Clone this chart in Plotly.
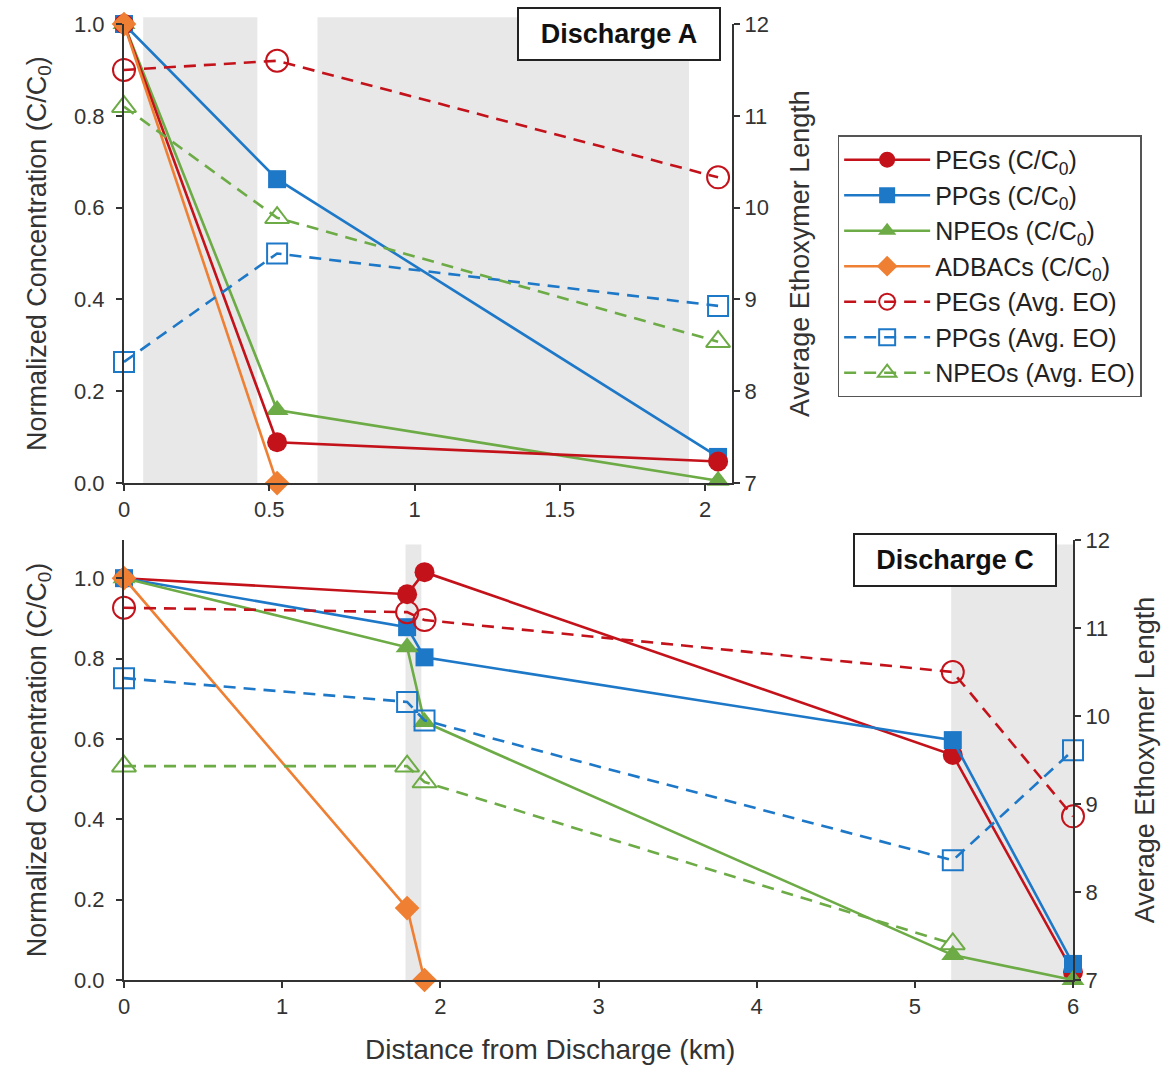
import plotly.graph_objects as go

# ---------------- data ----------------
# Discharge A
xa = [0, 0.527, 2.045]
a_peg_c = [1.0, 0.089, 0.047]
a_ppg_c = [1.0, 0.662, 0.057]
a_npeo_c = [1.0, 0.159, 0.005]
xa_adbac = [0, 0.527]
a_adbac_c = [1.0, 0.0]
a_peg_eo = [11.50, 11.60, 10.33]
a_ppg_eo = [8.32, 9.50, 8.93]
a_npeo_eo = [11.10, 9.89, 8.54]
a_shade = [(0.066, 0.459), (0.666, 1.945)]

# Discharge C
xc = [0, 1.79, 1.90, 5.24, 6.0]
c_peg_c = [1.0, 0.960, 1.015, 0.560, 0.020]
c_ppg_c = [1.0, 0.878, 0.803, 0.597, 0.040]
c_npeo_c = [1.0, 0.828, 0.642, 0.062, 0.0]
xc_adbac = [0, 1.79, 1.90]
c_adbac_c = [1.0, 0.179, 0.0]
c_peg_eo = [11.23, 11.18, 11.09, 10.50, 8.86]
c_ppg_eo = [10.43, 10.16, 9.95, 8.36, 9.61]
xc_npeo_eo = [0, 1.79, 1.90, 5.24]
c_npeo_eo = [9.43, 9.43, 9.25, 7.41]
c_shade = [(1.78, 1.88), (5.23, 6.0)]

names_c = ["PEGs (C/C<sub>0</sub>)", "PPGs (C/C<sub>0</sub>)", "NPEOs (C/C<sub>0</sub>)", "ADBACs (C/C<sub>0</sub>)"]
names_eo = ["PEGs (Avg. EO)", "PPGs (Avg. EO)", "NPEOs (Avg. EO)"]

RED = "#c4121b"
BLUE = "#1e78c8"
GREEN = "#6cab45"
ORANGE = "#ee7f33"
FONT = "Liberation Sans, Arial, sans-serif"
TXT = "#333333"

fig = go.Figure()

def solid(x, y, name, color, symbol, size, xaxis, yaxis, show, rank):
    fig.add_trace(go.Scatter(
        x=x, y=y, name=name, mode="lines+markers", xaxis=xaxis, yaxis=yaxis,
        line=dict(color=color, width=2.6),
        marker=dict(color=color, symbol=symbol, size=size),
        legendgroup=name, showlegend=show, legendrank=rank, cliponaxis=False))

def dashed(x, y, name, color, symbol, size, xaxis, yaxis, show, rank):
    fig.add_trace(go.Scatter(
        x=x, y=y, name=name, mode="lines+markers", xaxis=xaxis, yaxis=yaxis,
        line=dict(color=color, width=2.6, dash="12px,8px"),
        marker=dict(color=color, symbol=symbol, size=size, line=dict(width=2, color=color)),
        legendgroup=name, showlegend=show, legendrank=rank, cliponaxis=False))

# top panel (Discharge A)
dashed(xa, a_peg_eo, names_eo[0], RED, "circle-open", 22, "x", "y2", True, 5)
dashed(xa, a_ppg_eo, names_eo[1], BLUE, "square-open", 20, "x", "y2", True, 6)
dashed(xa, a_npeo_eo, names_eo[2], GREEN, "triangle-up-open", 21, "x", "y2", True, 7)
solid(xa, a_ppg_c, names_c[1], BLUE, "square", 18, "x", "y", True, 2)
solid(xa, a_npeo_c, names_c[2], GREEN, "triangle-up", 20, "x", "y", True, 3)
solid(xa, a_peg_c, names_c[0], RED, "circle", 20, "x", "y", True, 1)
solid(xa_adbac, a_adbac_c, names_c[3], ORANGE, "diamond", 19, "x", "y", True, 4)

# bottom panel (Discharge C)
dashed(xc, c_peg_eo, names_eo[0], RED, "circle-open", 22, "x2", "y4", False, 5)
dashed(xc, c_ppg_eo, names_eo[1], BLUE, "square-open", 20, "x2", "y4", False, 6)
dashed(xc_npeo_eo, c_npeo_eo, names_eo[2], GREEN, "triangle-up-open", 21, "x2", "y4", False, 7)
solid(xc, c_peg_c, names_c[0], RED, "circle", 20, "x2", "y3", False, 1)
solid(xc, c_ppg_c, names_c[1], BLUE, "square", 18, "x2", "y3", False, 2)
solid(xc, c_npeo_c, names_c[2], GREEN, "triangle-up", 20, "x2", "y3", False, 3)
solid(xc_adbac, c_adbac_c, names_c[3], ORANGE, "diamond", 19, "x2", "y3", False, 4)

shapes = []
for x0, x1 in a_shade:
    shapes.append(dict(type="rect", xref="x", yref="y domain", x0=x0, x1=x1, y0=0, y1=1.015,
                       fillcolor="#e8e8e8", line=dict(width=0), layer="below"))
for x0, x1 in c_shade:
    shapes.append(dict(type="rect", xref="x2", yref="y3 domain", x0=x0, x1=x1, y0=0, y1=0.99,
                       fillcolor="#e8e8e8", line=dict(width=0), layer="below"))

axis_common = dict(showgrid=False, zeroline=False, showline=True, linecolor="#333333", linewidth=2,
                   ticks="outside", ticklen=6, tickwidth=2, tickcolor="#333333", automargin=False,
                   tickfont=dict(size=22, color=TXT, family=FONT))

title_font = dict(size=27, color=TXT, family=FONT)

fig.update_layout(
    width=1162, height=1066,
    margin=dict(l=124, r=89, t=17, b=86),
    paper_bgcolor="white", plot_bgcolor="rgba(0,0,0,0)",
    font=dict(family=FONT, color=TXT),
    shapes=shapes,
    xaxis=dict(domain=[0, 0.6407], anchor="y", range=[0, 2.093], dtick=0.5, tick0=0, **axis_common),
    yaxis=dict(domain=[0.516, 0.9927], anchor="x", range=[0, 1.0], dtick=0.2, tickformat=".1f",
               ticklabelstandoff=7,
               title=dict(text="Normalized Concentration (C/C<sub>0</sub>)", font=title_font, standoff=20),
               **axis_common),
    yaxis2=dict(overlaying="y", side="right", anchor="x", range=[7, 12], dtick=1,
                title=dict(text="Average Ethoxymer Length", font=title_font, standoff=22),
                **axis_common),
    xaxis2=dict(domain=[0, 1.0], anchor="y3", range=[0, 6.0], dtick=1, **axis_common),
    yaxis3=dict(domain=[0, 0.4569], anchor="x2", range=[0, 1.095], dtick=0.2, tickformat=".1f",
                ticklabelstandoff=7,
                title=dict(text="Normalized Concentration (C/C<sub>0</sub>)", font=title_font, standoff=20),
                **axis_common),
    yaxis4=dict(overlaying="y3", side="right", anchor="x2", range=[7, 12], dtick=1,
                title=dict(text="Average Ethoxymer Length", font=title_font, standoff=26),
                **axis_common),
    legend=dict(x=0.752, y=0.877, xanchor="left", yanchor="top",
                bordercolor="#555555", borderwidth=1.5, bgcolor="white",
                font=dict(size=25, color="#222222", family=FONT), tracegroupgap=0,
                itemwidth=86),
    annotations=[
        dict(text="<b>Discharge A</b>", xref="paper", yref="paper", x=0.5216, y=0.982,
             xanchor="center", yanchor="middle", showarrow=False,
             font=dict(size=27, color="#111111", family=FONT),
             bordercolor="#222222", borderwidth=2, bgcolor="white", width=196, height=46, borderpad=2),
        dict(text="<b>Discharge C</b>", xref="paper", yref="paper", x=0.8757, y=0.4364,
             xanchor="center", yanchor="middle", showarrow=False,
             font=dict(size=27, color="#111111", family=FONT),
             bordercolor="#222222", borderwidth=2, bgcolor="white", width=196, height=46, borderpad=2),
        dict(text="Distance from Discharge (km)", xref="paper", yref="paper", x=(550 - 124) / 949, y=-0.0717,
             xanchor="center", yanchor="middle", showarrow=False,
             font=dict(size=28, color=TXT, family=FONT)),
    ],
)

fig.write_html("out.html")
